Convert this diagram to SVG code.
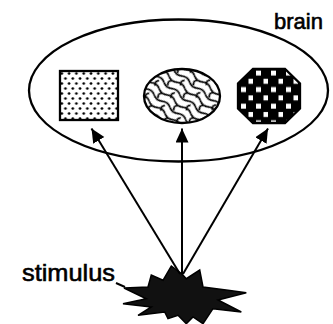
<svg xmlns="http://www.w3.org/2000/svg" width="333" height="324" viewBox="0 0 333 324">
<style>
.lbl{font-family:"Liberation Sans",Arial,sans-serif;fill:#000;stroke:#000;stroke-width:0.6}
.shape{stroke:#000;stroke-width:2.3}
.conn{stroke:#000;stroke-width:2;fill:none}
</style>
<defs>
<pattern id="dots" patternUnits="userSpaceOnUse" width="7.3" height="10" x="60" y="71">
<rect width="7.3" height="10" fill="#fff"/>
<circle cx="1.8" cy="2.5" r="1.35" fill="#000"/>
<circle cx="5.45" cy="7.5" r="1.35" fill="#000"/>
</pattern>
<pattern id="scales" patternUnits="userSpaceOnUse" width="20" height="16" patternTransform="rotate(38)">
<rect width="20" height="16" fill="#fff"/>
<g fill="none" stroke="#000" stroke-width="1.7">
<path d="M0,4 q5,3.2 10,0 t10,0"/>
<path d="M0,12 q5,3.2 10,0 t10,0"/>
<path d="M5,5.6 q-3.5,3.2 0,6.4"/>
<path d="M15,13.6 q-3.5,3.2 0,6.4"/>
<path d="M15,-2.4 q-3.5,3.2 0,6.4"/>
</g>
</pattern>
<pattern id="checks" patternUnits="userSpaceOnUse" width="15" height="16.6" x="238" y="68">
<rect width="15" height="16.6" fill="#000"/>
<rect x="3" y="2.5" width="5" height="5" fill="#fff"/>
<rect x="10.5" y="10.8" width="5" height="5" fill="#fff"/>
</pattern>
<marker id="ah" markerUnits="userSpaceOnUse" markerWidth="15" markerHeight="14" refX="14" refY="6.5" orient="auto">
<path d="M0,0 L14,6.5 L0,13 z" fill="#000"/>
</marker>
</defs>

<g id="brain">
<ellipse cx="178.5" cy="90.5" rx="149.5" ry="71" fill="none" class="shape"/>
<text class="lbl" x="274" y="29" font-size="22">brain</text>
</g>

<g id="square">
<rect x="60" y="71" width="58" height="49" fill="url(#dots)" class="shape"/>
</g>

<g id="oval">
<ellipse cx="182" cy="96" rx="38" ry="27" fill="url(#scales)" class="shape"/>
</g>

<g id="octagon">
<polygon points="253,69 285,69 300,83.5 300,108.5 285,123 253,123 238,108.5 238,83.5" fill="url(#checks)" class="shape"/>
</g>

<g id="stimulus">
<polygon points="171.3,266 182,274 186.3,278.7 199.7,270 203,287 228,290.3 246.3,292.7 218,300 241.3,312 213,308.7 203,323.7 193,317 186.3,323.7 178,315.3 168,318.7 164.7,312 138,315.3 151.3,307 123,303.7 146.3,298.7 124,288 148,287 151.3,275 163,280.3" fill="#111" stroke="#000" stroke-width="1.5" stroke-linejoin="miter"/>
<text class="lbl" x="22" y="281" font-size="24" textLength="93" lengthAdjust="spacingAndGlyphs">stimulus</text>
<line x1="116" y1="283" x2="125" y2="287" class="conn"/>
</g>

<g id="connectors">
<line x1="180" y1="274" x2="91.5" y2="128.5" class="conn" marker-end="url(#ah)"/>
<line x1="182" y1="274" x2="182" y2="128.5" class="conn" marker-end="url(#ah)"/>
<line x1="183" y1="274" x2="268" y2="128.5" class="conn" marker-end="url(#ah)"/>
</g>
</svg>
